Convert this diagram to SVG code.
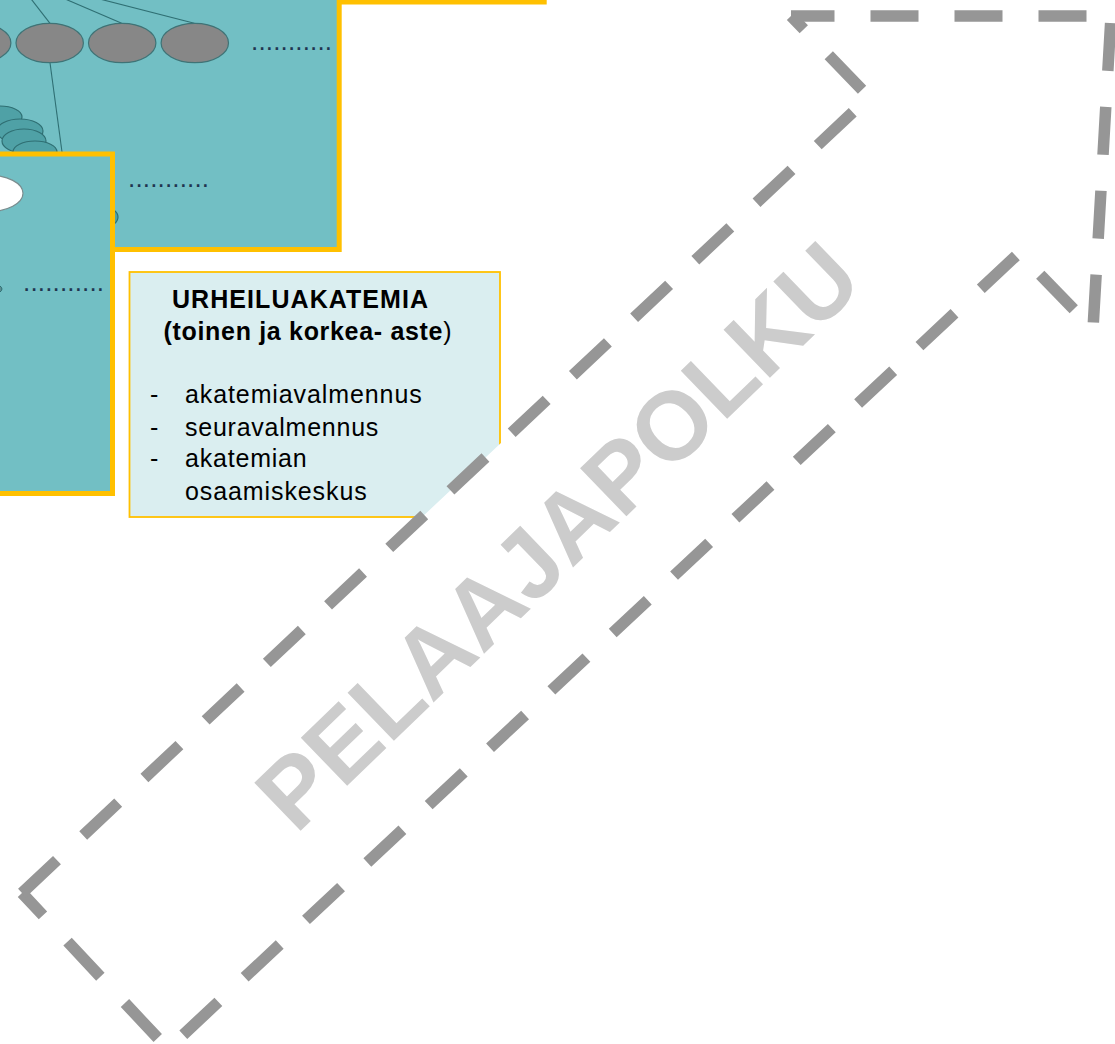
<svg xmlns="http://www.w3.org/2000/svg" width="1115" height="1044" viewBox="0 0 1115 1044">
  <style>
    .box { fill: #72BFC4; stroke: #FFC000; stroke-width: 5; }
    .gray { fill: #878787; stroke: #3F7376; stroke-width: 1.2; }
    .dteal { fill: #4FA1A6; stroke: #2F6F73; stroke-width: 1.2; }
    .link { stroke: #2F6F73; stroke-width: 1.1; fill: none; }
    .dots { font-family: "Liberation Sans", Arial, sans-serif; font-size: 26px; fill: #1F3550; }
    .t { font-family: "Liberation Sans", Arial, sans-serif; font-size: 25px; fill: #000; }
    .b { font-weight: bold; }
    .dash { stroke: #969696; stroke-width: 11.5; stroke-dasharray: 48 36; fill: none; stroke-linecap: butt; }
    .wm { font-family: "Liberation Sans", Arial, sans-serif; font-size: 97px; font-weight: bold; fill: #CCCCCC; }
  </style>

  <!-- outer box (only bottom border visible) -->
  <g id="box-outer">
    <rect class="box" x="-300" y="-300" width="844.2" height="302"/>
  </g>

  <!-- big teal box -->
  <g id="box-level1">
    <rect class="box" x="-20" y="-20" width="359.2" height="269.5"/>
    <g id="links1">
      <line class="link" x1="50" y1="23.3" x2="14" y2="-23"/>
      <line class="link" x1="121.7" y1="23.3" x2="14" y2="-23"/>
      <line class="link" x1="194.3" y1="23.3" x2="14" y2="-23"/>
      <line class="link" x1="50" y1="62.7" x2="62" y2="152"/>
    </g>
    <ellipse class="gray" cx="-22.8" cy="43" rx="33.7" ry="19.7"/>
    <ellipse class="gray" cx="49.7" cy="43" rx="33.7" ry="19.7"/>
    <ellipse class="gray" cx="122.2" cy="43" rx="33.7" ry="19.7"/>
    <ellipse class="gray" cx="194.8" cy="43" rx="33.7" ry="19.7"/>
    <text class="dots" x="251" y="49.5" textLength="81" lengthAdjust="spacing">...........</text>
    <ellipse class="dteal" cx="0" cy="117" rx="22" ry="11"/>
    <ellipse class="dteal" cx="20" cy="131" rx="23" ry="12"/>
    <ellipse class="dteal" cx="24" cy="141" rx="22" ry="12"/>
    <ellipse class="dteal" cx="35" cy="152" rx="22" ry="11"/>
    <ellipse class="dteal" cx="104" cy="217" rx="14" ry="10"/>
    <text class="dots" x="128" y="186.5" textLength="81" lengthAdjust="spacing">...........</text>
  </g>

  <!-- second teal box -->
  <g id="box-level2">
    <rect class="box" x="-20" y="154" width="132.5" height="339.5"/>
    <ellipse cx="-12" cy="193.3" rx="35" ry="18.3" fill="#FFFFFF" stroke="#7A8C8E" stroke-width="1.2"/>
    <ellipse cx="-32" cy="289" rx="34" ry="9" fill="#5A8E92" stroke="#2F6F73" stroke-width="1"/>
    <text class="dots" x="23" y="290.5" textLength="81" lengthAdjust="spacing">...........</text>
  </g>

  <!-- Urheiluakatemia box -->
  <g id="urheiluakatemia">
    <rect x="129.5" y="272" width="370.5" height="245" fill="#DAEEF0" stroke="#FFC000" stroke-width="1.8"/>
    <text class="t b" x="172" y="308.3" textLength="256" lengthAdjust="spacing">URHEILUAKATEMIA</text>
    <text class="t b" x="163.5" y="340" textLength="288" lengthAdjust="spacing">(toinen ja korkea- aste<tspan font-weight="normal">)</tspan></text>
    <text class="t" x="150" y="403.3">-</text>
    <text class="t" x="185" y="403.3" textLength="236.7" lengthAdjust="spacing">akatemiavalmennus</text>
    <text class="t" x="150" y="435.7">-</text>
    <text class="t" x="185" y="435.7" textLength="193.3" lengthAdjust="spacing">seuravalmennus</text>
    <text class="t" x="150" y="467.3">-</text>
    <text class="t" x="185" y="467.3" textLength="121.7" lengthAdjust="spacing">akatemian</text>
    <text class="t" x="185" y="500" textLength="181.7" lengthAdjust="spacing">osaamiskeskus</text>
  </g>

  <!-- dashed block arrow (pelaajapolku) -->
  <g id="arrow">
    <polygon points="791,16 1111,16 1093,329 1019,253 168,1049 22,893 869,97" fill="#FFFFFF" stroke="none"/>
    <line class="dash" x1="791" y1="16" x2="1111" y2="16" stroke-dashoffset="4.5"/>
    <line class="dash" x1="1111" y1="16" x2="1093" y2="329" stroke-dashoffset="77"/>
    <line class="dash" x1="1093" y1="329" x2="1019" y2="253" stroke-dashoffset="56.4"/>
    <line class="dash" x1="1019" y1="253" x2="168" y2="1049" stroke-dashoffset="79.7"/>
    <line class="dash" x1="168" y1="1049" x2="22" y2="893" stroke-dashoffset="69"/>
    <line class="dash" x1="22" y1="893" x2="869" y2="97" stroke-dashoffset="0"/>
    <line class="dash" x1="869" y1="97" x2="791" y2="16" stroke-dashoffset="74"/>
  </g>

  <g id="watermark">
    <text class="wm" x="581" y="560" text-anchor="middle" transform="rotate(-44 581 560)">PELAAJAPOLKU</text>
  </g>
</svg>
